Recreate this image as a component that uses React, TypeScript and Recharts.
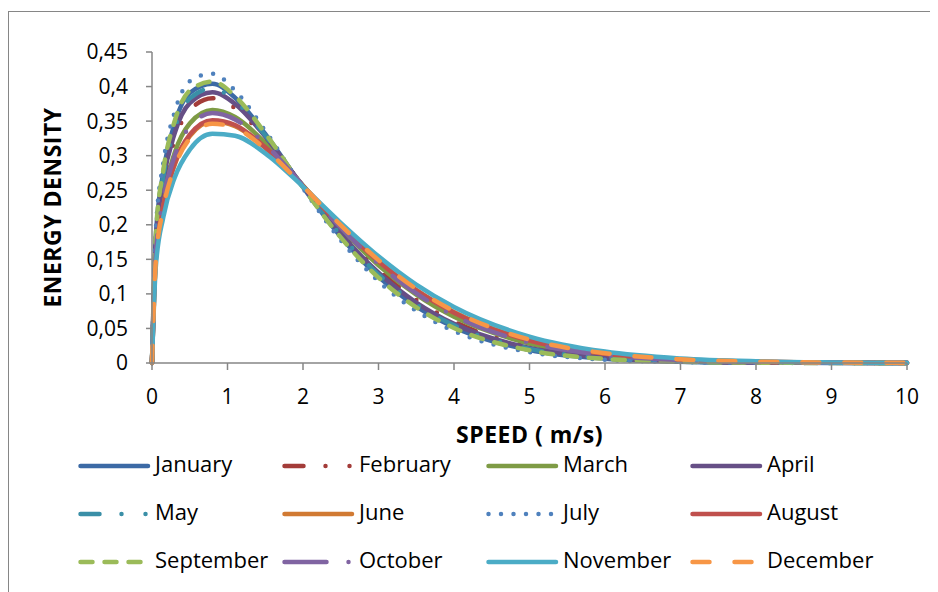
import React from 'react';
import { LineChart, Line, XAxis, YAxis } from 'recharts';

const speeds = [0, 0.05, 0.15, 0.3, 0.5, 0.8, 1.1, 1.5, 2, 2.5, 3, 3.5, 4, 5, 6, 7, 8, 9, 10];

const january = [0, 0.1823, 0.2762, 0.3466, 0.3908, 0.4042, 0.3839, 0.3315, 0.2543, 0.1827, 0.1249, 0.0819, 0.0518, 0.0189, 0.0063, 0.0019, 0.0005, 0.0001, 0];
const february = [0, 0.1687, 0.256, 0.3225, 0.3659, 0.383, 0.3687, 0.325, 0.2566, 0.1903, 0.1345, 0.0913, 0.0599, 0.0237, 0.0085, 0.0028, 0.0009, 0.0003, 0.0001];
const march = [0, 0.1583, 0.2406, 0.3039, 0.3465, 0.3659, 0.3558, 0.3185, 0.2569, 0.1951, 0.1415, 0.0988, 0.0668, 0.0281, 0.0108, 0.0038, 0.0013, 0.0004, 0.0001];
const april = [0, 0.1742, 0.2642, 0.3323, 0.376, 0.3917, 0.3749, 0.3276, 0.2557, 0.1872, 0.1306, 0.0875, 0.0566, 0.0217, 0.0076, 0.0024, 0.0007, 0.0002, 0.0001];
const may = [0, 0.1779, 0.2697, 0.3388, 0.3828, 0.3974, 0.379, 0.3294, 0.2551, 0.1851, 0.128, 0.0849, 0.0544, 0.0205, 0.007, 0.0022, 0.0006, 0.0002, 0.0001];
const june = [0, 0.1487, 0.2263, 0.2866, 0.3281, 0.3493, 0.3428, 0.3112, 0.2561, 0.1988, 0.1478, 0.1059, 0.0737, 0.033, 0.0136, 0.0052, 0.0019, 0.0006, 0.0002];
const july = [0, 0.1916, 0.29, 0.363, 0.4077, 0.4187, 0.3943, 0.3359, 0.2528, 0.1776, 0.1183, 0.0754, 0.0462, 0.0157, 0.0048, 0.0013, 0.0003, 0.0001, 0];
const august = [0, 0.1499, 0.2281, 0.2887, 0.3304, 0.3514, 0.3444, 0.3121, 0.2562, 0.1984, 0.147, 0.105, 0.0728, 0.0324, 0.0132, 0.005, 0.0018, 0.0006, 0.0002];
const september = [0, 0.1842, 0.2789, 0.3498, 0.3941, 0.4071, 0.386, 0.3323, 0.254, 0.1817, 0.1236, 0.0806, 0.0507, 0.0183, 0.006, 0.0018, 0.0005, 0.0001, 0];
const october = [0, 0.1559, 0.237, 0.2996, 0.3419, 0.3618, 0.3525, 0.3166, 0.2567, 0.196, 0.1431, 0.1006, 0.0685, 0.0294, 0.0115, 0.0042, 0.0015, 0.0005, 0.0002];
const november = [0, 0.1385, 0.2111, 0.2681, 0.3086, 0.3316, 0.3289, 0.3034, 0.2552, 0.2028, 0.1544, 0.1134, 0.081, 0.0382, 0.0165, 0.0066, 0.0025, 0.0009, 0.0003];
const december = [0, 0.1469, 0.2236, 0.2833, 0.3247, 0.3462, 0.3403, 0.3098, 0.2559, 0.1995, 0.1489, 0.1072, 0.075, 0.0339, 0.0141, 0.0054, 0.002, 0.0007, 0.0002];

const xTicks = [0, 1, 2, 3, 4, 5, 6, 7, 8, 9, 10];
const yTicks = [0, 0.05, 0.1, 0.15, 0.2, 0.25, 0.3, 0.35, 0.4, 0.45];

const series = [
  { key: 'January', values: january, color: '#3c6aa5', dash: undefined },
  { key: 'February', values: february, color: '#a33c39', dash: '19 22 0 24 0 24' },
  { key: 'March', values: march, color: '#7e9b45', dash: undefined },
  { key: 'April', values: april, color: '#664f86', dash: undefined },
  { key: 'May', values: may, color: '#3a8fa7', dash: '19 22 0 24 0 24' },
  { key: 'June', values: june, color: '#d17a33', dash: undefined },
  { key: 'July', values: july, color: '#4f81bd', dash: '0 12.5' },
  { key: 'August', values: august, color: '#c0504d', dash: undefined },
  { key: 'September', values: september, color: '#9bbb59', dash: '12 12' },
  { key: 'October', values: october, color: '#8064a2', dash: '42 22 0 22' },
  { key: 'November', values: november, color: '#4bacc6', dash: undefined },
  { key: 'December', values: december, color: '#f79646', dash: '17 25' },
];

const data = speeds.map((s, i) => {
  const row: Record<string, number> = { speed: s };
  series.forEach((m) => {
    row[m.key] = m.values[i];
  });
  return row;
});

const font = '"Open Sans", sans-serif';
const axisColor = '#868686';

const fmt = (v: number) => String(v).replace('.', ',');

const legendCols = [78, 282, 486, 690];
const legendRows = [466, 514, 562];

const App = () => (
  <div
    style={{
      position: 'relative',
      width: 929,
      height: 580,
      marginTop: 3,
      borderLeft: `1px solid ${axisColor}`,
      borderTop: `1px solid ${axisColor}`,
      fontFamily: font,
    }}
  >
    <style>{'html,body{overflow:hidden}'}</style>
    <LineChart
      width={929}
      height={445}
      data={data}
      margin={{ top: 40, right: 31, left: 0, bottom: 34 }}
    >
      <XAxis
        dataKey="speed"
        type="number"
        domain={[0, 10]}
        ticks={xTicks}
        stroke={axisColor}
        strokeWidth={1.5}
        tickSize={7}
        tickMargin={19}
        height={60}
        tick={{ fill: '#000', fontSize: 21, fontFamily: font }}
        label={{
          content: (p: any) => (
            <text
              x={p.viewBox.x + p.viewBox.width / 2}
              y={425}
              textAnchor="middle"
              dominantBaseline="middle"
              fontFamily={font}
              fontWeight="bold"
              fontSize={23}
              letterSpacing={0.5}
              fill="#000"
            >
              SPEED ( m/s)
            </text>
          ),
        }}
      />
      <YAxis
        type="number"
        domain={[0, 0.45]}
        ticks={yTicks}
        tickFormatter={fmt}
        width={143}
        stroke={axisColor}
        strokeWidth={1.5}
        tickSize={6}
        tickMargin={18}
        tick={{ fill: '#000', fontSize: 21, fontFamily: font }}
        label={{
          content: (p: any) => {
            const cy = p.viewBox.y + p.viewBox.height / 2;
            return (
              <text
                x={46}
                y={cy}
                transform={`rotate(-90, 46, ${cy})`}
                textAnchor="middle"
                dominantBaseline="middle"
                fontFamily={font}
                fontWeight="bold"
                fontSize={23}
                letterSpacing={0.5}
                fill="#000"
              >
                ENERGY DENSITY
              </text>
            );
          },
        }}
      />
      {series.map((m) => (
        <Line
          key={m.key}
          dataKey={m.key}
          type="monotone"
          stroke={m.color}
          strokeWidth={4.5}
          strokeDasharray={m.dash}
          strokeLinecap="round"
          dot={false}
          isAnimationActive={false}
        />
      ))}
    </LineChart>
    <svg
      width={929}
      height={140}
      style={{ position: 'absolute', left: 0, top: 428 }}
    >
      {series.map((m, i) => {
        const x = legendCols[i % 4] - 9;
        const y = legendRows[Math.floor(i / 4)] - 12 - 428;
        return (
          <g key={m.key}>
            <line
              x1={x + 2.5}
              x2={x + 70}
              y1={y}
              y2={y}
              stroke={m.color}
              strokeWidth={4.5}
              strokeDasharray={m.dash}
              strokeLinecap="round"
            />
            <text
              x={x + 77}
              y={y}
              dominantBaseline="middle"
              fontFamily={font}
              fontSize={22}
              fill="#000"
            >
              {m.key}
            </text>
          </g>
        );
      })}
    </svg>
  </div>
);

export default App;
